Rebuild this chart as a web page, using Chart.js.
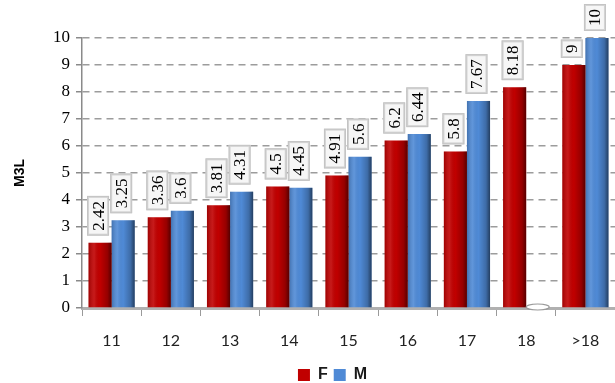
<!DOCTYPE html>
<html>
<head>
<meta charset="utf-8">
<script src="https://cdn.jsdelivr.net/npm/chart.js@4/dist/chart.umd.min.js"></script>
<style>
  html, body { margin: 0; padding: 0; background: #fff; }
  #wrap { width: 615px; height: 383px; position: relative; }
</style>
</head>
<body>
<div id="wrap"><canvas id="c"></canvas></div>
<script>
// Age groups on the x axis
const categories = ['11', '12', '13', '14', '15', '16', '17', '18', '>18'];
// Mean values per age group
const femaleValues = [2.42, 3.36, 3.81, 4.5, 4.91, 6.2, 5.8, 8.18, 9];
const maleValues   = [3.25, 3.6, 4.31, 4.45, 5.6, 6.44, 7.67, 0, 10];
const seriesNames = ['F', 'M'];
const yTicks = [0, 1, 2, 3, 4, 5, 6, 7, 8, 9, 10];

const RED = '#c00000';
const BLUE = '#4f8ad6';

// Cylinder-like shading over each bar, plus a flat disc for zero-height bars
const barShading = {
  id: 'barShading',
  afterDatasetsDraw(chart) {
    const ctx = chart.ctx;
    chart.data.datasets.forEach((ds, di) => {
      const meta = chart.getDatasetMeta(di);
      meta.data.forEach((el, i) => {
        const w = el.width;
        const left = el.x - w / 2;
        const top = Math.min(el.y, el.base);
        const h = Math.abs(el.base - el.y);
        ctx.save();
        if (h < 1) {
          ctx.beginPath();
          ctx.ellipse(el.x, el.base - 1, w / 2, 3, 0, 0, Math.PI * 2);
          ctx.fillStyle = '#ffffff';
          ctx.fill();
          ctx.strokeStyle = '#9a9a9a';
          ctx.lineWidth = 1.2;
          ctx.stroke();
        } else {
          const g = ctx.createLinearGradient(left, 0, left + w, 0);
          g.addColorStop(0, 'rgba(0,0,0,0.18)');
          g.addColorStop(0.25, 'rgba(255,255,255,0.10)');
          g.addColorStop(0.5, 'rgba(0,0,0,0)');
          g.addColorStop(0.82, 'rgba(0,0,0,0.22)');
          g.addColorStop(1, 'rgba(0,0,0,0.55)');
          ctx.fillStyle = g;
          ctx.fillRect(left, top, w, h);
        }
        ctx.restore();
      });
    });
  }
};

// Rotated value labels in small light boxes above each bar
const valueLabels = {
  id: 'valueLabels',
  afterDatasetsDraw(chart) {
    const ctx = chart.ctx;
    ctx.save();
    ctx.font = '17px "Liberation Serif", "DejaVu Serif", serif';
    chart.data.datasets.forEach((ds, di) => {
      const meta = chart.getDatasetMeta(di);
      meta.data.forEach((el, i) => {
        const v = ds.data[i];
        if (!v) return;
        const txt = String(v);
        const tw = ctx.measureText(txt).width;
        const L = tw + 10;
        const T = 22;
        const cx = el.x - 2;
        const by = el.y - 7;
        ctx.save();
        ctx.translate(cx, by);
        ctx.rotate(-Math.PI / 2);
        // box: x runs upward along the label
        ctx.fillStyle = '#d4d4d4';
        ctx.fillRect(0, -T / 2, L, T);
        ctx.fillStyle = '#f6f6f6';
        ctx.fillRect(2, -T / 2 + 2, L - 4, T - 4);
        ctx.strokeStyle = '#c4c4c4';
        ctx.lineWidth = 1;
        ctx.strokeRect(0.5, -T / 2 + 0.5, L - 1, T - 1);
        ctx.fillStyle = '#000';
        ctx.textAlign = 'center';
        ctx.textBaseline = 'middle';
        ctx.fillText(txt, L / 2, 1);
        ctx.restore();
      });
    });
    ctx.restore();
  }
};

// Nudge the legend toward the plot centre
const legendShift = {
  id: 'legendShift',
  afterLayout(chart) {
    if (chart.legend) {
      chart.legend.left += 22;
      chart.legend.right += 22;
    }
  }
};

new Chart(document.getElementById('c'), {
  type: 'bar',
  data: {
    labels: categories,
    datasets: [
      { label: seriesNames[0], data: femaleValues, backgroundColor: RED },
      { label: seriesNames[1], data: maleValues, backgroundColor: BLUE }
    ]
  },
  plugins: [barShading, valueLabels, legendShift],
  options: {
    responsive: true,
    maintainAspectRatio: false,
    animation: false,
    layout: { padding: { top: 38, right: -6, left: 0, bottom: -10 } },
    datasets: {
      bar: { categoryPercentage: 0.78, barPercentage: 1.0 }
    },
    plugins: {
      legend: {
        position: 'bottom',
        labels: {
          boxWidth: 12,
          boxHeight: 12,
          padding: 6,
          color: '#1a1a1a',
          font: { family: '"Liberation Sans", Arial, sans-serif', size: 16, weight: 'bold' }
        }
      },
      tooltip: { enabled: false }
    },
    scales: {
      x: {
        grid: {
          drawOnChartArea: false,
          drawTicks: true,
          tickLength: 8,
          tickColor: '#9a9a9a',
          offset: true
        },
        border: { display: true, color: '#b0b0b0', width: 3 },
        ticks: {
          color: '#222',
          padding: 15,
          font: { family: 'Lato, "Liberation Sans", sans-serif', size: 16 }
        },
        afterFit(scale) { scale.height = 53; }
      },
      y: {
        min: 0,
        max: 10,
        afterBuildTicks(scale) { scale.ticks = yTicks.map(v => ({ value: v })); },
        ticks: {
          color: '#000',
          padding: 6,
          font: { family: '"Liberation Serif", "DejaVu Serif", serif', size: 17 }
        },
        grid: {
          color: '#9c9c9c',
          lineWidth: 1.5,
          tickLength: 6,
          tickColor: '#8a8a8a',
          tickBorderDash: []
        },
        border: { display: true, color: '#8a8a8a', width: 1.5, dash: [7, 5] },
        title: {
          display: true,
          text: 'M3L',
          color: '#000',
          padding: { top: 12, bottom: 0 },
          font: { family: '"Liberation Sans", Arial, sans-serif', size: 14, weight: 'bold' }
        },
        afterFit(scale) { scale.width = 82; }
      }
    }
  }
});
</script>
</body>
</html>
